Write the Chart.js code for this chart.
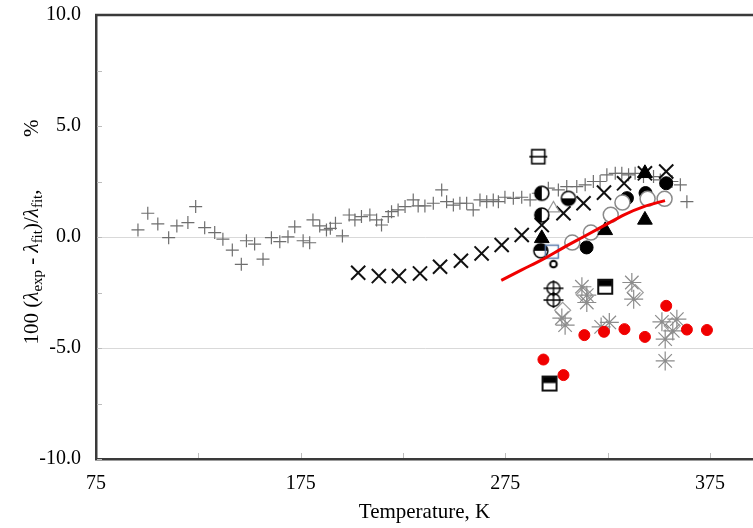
<!DOCTYPE html>
<html>
<head>
<meta charset="utf-8">
<script src="https://cdn.jsdelivr.net/npm/chart.js@4/dist/chart.umd.min.js"></script>
<style>
  html, body { margin: 0; padding: 0; background: #fff; overflow: hidden; }
  #wrap { width: 753px; height: 528px; }
</style>
</head>
<body>
<div id="wrap"><canvas id="c" width="753" height="528"></canvas></div>
<script>
// Axis ticks
const xTicks = [75, 125, 175, 225, 275, 325, 375];
const yTicks = [-10, -7.5, -5, -2.5, 0, 2.5, 5, 7.5, 10];

// Deviation data, [temperature K, deviation %]
const plusPts = [
  [95.5,0.32],[100.3,1.07],[105.2,0.59],[110.5,-0.03],[114.5,0.5],[119.9,0.65],[123.7,1.37],
  [128.1,0.42],[133,0.2],[137,-0.1],[141.6,-0.59],[146,-1.23],[148.5,-0.17],[152.5,-0.32],
  [156.6,-1.0],[160.7,-0.03],[164.8,-0.21],[168.8,0.01],[172.1,0.46],[176.2,-0.17],[179.4,-0.26],
  [181,0.77],[184.3,0.5],[187.6,0.32],[189.5,0.39],[192,0.62],[195.4,0.05],[198.7,0.99],
  [201.5,0.77],[204.7,0.92],[208.8,0.99],[212.1,0.77],[214.5,0.54],[217.8,0.92],[219.4,1.14],
  [222.6,1.22],[226,1.37],[230,1.67],[232.4,1.4],[235.7,1.4],[239.8,1.52],[243.9,2.12],
  [246.3,1.59],[249.6,1.44],[252.8,1.52],[256.1,1.52],[259.3,1.22],[262.6,1.67],[265.9,1.59],
  [269.1,1.67],[271.6,1.59],[274.8,1.79],[278.9,1.74],[283,1.79],[287.1,1.67],[291.1,1.97],
  [296,2.2],[300.9,2.12],[305,2.27],[309.9,2.27],[314,2.35],[318,2.5],[321.3,2.5],[324.6,2.8],
  [328.7,2.87],[331.9,2.87],[335.2,2.8],[338.4,2.87],[342.5,2.72],[347.4,2.72],[350.7,2.57],
  [356.4,2.5],[360.5,2.35],[363.7,1.59]
];
const crossPts = [
  [203.1,-1.61],[213.2,-1.76],[223,-1.76],[233.3,-1.64],[243.1,-1.34],[253.3,-1.07],[263.4,-0.74],
  [273.2,-0.36],[283,0.09],[292.8,0.54],[303.4,1.07],[313.2,1.52],[323.2,2.0],[333,2.42],
  [343.2,2.87],[353.6,2.95]
];
const fitCurveT   = [273, 283, 293, 303, 313, 323, 333, 343, 353];
const fitCurveDev = [-1.95, -1.48, -1.02, -0.5, 0.0, 0.5, 1.0, 1.38, 1.64];
const openCirclePts = [[307.7,-0.25],[316.8,0.2],[326.5,1.0],[332.2,1.55],[344.5,1.72],[352.8,1.72]];
const blackCirclePts = [[314.7,-0.47],[353.6,2.42],[334.4,1.75],[343.5,1.98]];
const blackTrianglePts = [[292.8,-0.06],[323.8,0.3],[343.2,0.77],[343.2,2.87]];
const redCirclePts = [
  [293.6,-5.52],[303.4,-6.22],[313.6,-4.42],[323.2,-4.27],[333.2,-4.15],[343.2,-4.5],
  [353.6,-3.1],[363.7,-4.17],[373.5,-4.19]
];
const starPts = [
  [312.4,-2.24],[314.8,-2.62],[314.8,-2.95],[336.8,-2.05],[337.7,-2.8],[302.6,-3.65],[304.2,-3.97],
  [321.8,-4.05],[325.8,-3.85],[351.5,-3.82],[358.8,-3.7],[353.1,-4.6],[356.8,-4.23],[353.1,-5.58]
];
const diamondPts = [[303,-3.3],[338.5,-2.5],[356.5,-4.0],[313.5,-2.6]];
const halfLeftPts = [[292.8,1.97],[292.8,0.99]];
const halfBottomPts = [[305.8,1.74]];
const halfTopPts = [[292.3,-0.62]];
const grayTrianglePts = [[298.5,1.29]];
const splitSquarePts = [[291.1,3.62]];
const topFilledSquarePts = [[323.8,-2.24],[296.6,-6.6]];
const smallCirclePts = [[298.5,-1.22]];
const ringCrossPts = [[298.5,-2.31],[298.5,-2.84]];
const blueSquarePts = [[297.7,-0.66]];

const SERIF = '"Liberation Serif", "Times New Roman", serif';
const pts = a => a.map(([x, y]) => ({ x, y }));

// Small canvases used as custom point symbols
function symbol(size, draw) {
  const c = document.createElement('canvas');
  c.width = size; c.height = size;
  const g = c.getContext('2d');
  draw(g, size / 2);
  return c;
}
function halfCircle(a0, a1) {
  return symbol(18, (g, m) => {
    const r = 7;
    g.beginPath(); g.arc(m, m, r, 0, Math.PI * 2);
    g.fillStyle = '#fff'; g.fill();
    g.beginPath(); g.moveTo(m, m); g.arc(m, m, r, a0, a1); g.closePath();
    g.fillStyle = '#000'; g.fill();
    g.beginPath(); g.arc(m, m, r, 0, Math.PI * 2);
    g.lineWidth = 1.5; g.strokeStyle = '#000'; g.stroke();
  });
}
const symHalfLeft = halfCircle(Math.PI / 2, Math.PI * 1.5);
const symHalfBottom = halfCircle(0, Math.PI);
const symHalfTop = halfCircle(Math.PI, Math.PI * 2);
const symSplitSquare = symbol(22, (g, m) => {
  g.lineWidth = 1.6; g.strokeStyle = '#000';
  g.fillStyle = '#fff'; g.fillRect(m - 6.5, m - 7, 13, 14);
  g.strokeRect(m - 6.5, m - 7, 13, 14);
  g.beginPath(); g.moveTo(m - 9, m); g.lineTo(m + 9, m); g.stroke();
});
const symTopFilledSquare = symbol(20, (g, m) => {
  g.fillStyle = '#fff'; g.fillRect(m - 7, m - 7, 14, 14);
  g.fillStyle = '#000'; g.fillRect(m - 7, m - 7, 14, 6.5);
  g.lineWidth = 2; g.strokeStyle = '#111'; g.strokeRect(m - 7, m - 7, 14, 14);
});
const symSmallCircle = symbol(12, (g, m) => {
  g.beginPath(); g.arc(m, m, 3.3, 0, Math.PI * 2);
  g.fillStyle = '#fff'; g.fill();
  g.lineWidth = 2; g.strokeStyle = '#000'; g.stroke();
});
const symRingCross = symbol(22, (g, m) => {
  g.lineWidth = 1.4; g.strokeStyle = '#000';
  g.beginPath(); g.arc(m, m, 6.5, 0, Math.PI * 2); g.stroke();
  g.beginPath();
  g.moveTo(m - 10, m); g.lineTo(m + 10, m);
  g.moveTo(m, m - 8); g.lineTo(m, m + 8);
  g.stroke();
});
const symBlueSquare = symbol(18, (g, m) => {
  g.lineWidth = 1.4; g.strokeStyle = '#5576a8';
  g.strokeRect(m - 6.5, m - 6.5, 13, 13);
});

function scatterSet(label, data, extra) {
  return Object.assign({
    label, type: 'scatter', data: pts(data), showLine: false,
    pointRadius: 6, pointHoverRadius: 6, pointBorderWidth: 1.5
  }, extra);
}

const fitCurve = fitCurveT.map((t, i) => ({ x: t, y: fitCurveDev[i] }));

const datasets = [
  { label: 'fit', type: 'line', data: fitCurve, borderColor: '#f00000', borderWidth: 3,
    pointRadius: 0, fill: false, cubicInterpolationMode: 'monotone' },
  scatterSet('small circle', smallCirclePts, { pointStyle: symSmallCircle }),
  scatterSet('blue square', blueSquarePts, { pointStyle: symBlueSquare }),
  scatterSet('half top', halfTopPts, { pointStyle: symHalfTop }),
  scatterSet('half left', halfLeftPts, { pointStyle: symHalfLeft }),
  scatterSet('half bottom', halfBottomPts, { pointStyle: symHalfBottom }),
  scatterSet('split square', splitSquarePts, { pointStyle: symSplitSquare }),
  scatterSet('top filled square', topFilledSquarePts, { pointStyle: symTopFilledSquare }),
  scatterSet('ring cross', ringCrossPts, { pointStyle: symRingCross }),
  scatterSet('black triangle', blackTrianglePts, { pointStyle: 'triangle', pointRadius: 8.5,
    pointBackgroundColor: '#000', pointBorderColor: '#000', pointBorderWidth: 1 }),
  scatterSet('open circle', openCirclePts, { pointStyle: 'circle', pointRadius: 7.5,
    pointBackgroundColor: '#fff', pointBorderColor: '#8a8a8a', pointBorderWidth: 1.5 }),
  scatterSet('black circle', blackCirclePts, { pointStyle: 'circle', pointRadius: 6.5,
    pointBackgroundColor: '#000', pointBorderColor: '#000', pointBorderWidth: 1 }),
  scatterSet('gray triangle', grayTrianglePts, { pointStyle: 'triangle', pointRadius: 7,
    pointBackgroundColor: 'rgba(0,0,0,0)', pointBorderColor: '#9a9a9a', pointBorderWidth: 1.2 }),
  scatterSet('red circle', redCirclePts, { pointStyle: 'circle', pointRadius: 5.5,
    pointBackgroundColor: '#f00000', pointBorderColor: '#f00000', pointBorderWidth: 1 }),
  scatterSet('star', starPts, { pointStyle: 'star', pointRadius: 9.5,
    pointBorderColor: '#8c8c8c', pointBorderWidth: 1.2 }),
  scatterSet('diamond', diamondPts, { pointStyle: 'rectRot', pointRadius: 8,
    pointBackgroundColor: 'rgba(0,0,0,0)', pointBorderColor: '#a0a0a0', pointBorderWidth: 1.2 }),
  scatterSet('cross', crossPts, { pointStyle: 'crossRot', pointRadius: 10,
    pointBorderColor: '#111', pointBorderWidth: 2 }),
  scatterSet('plus', plusPts, { pointStyle: 'cross', pointRadius: 6.5,
    pointBorderColor: '#6e6e6e', pointBorderWidth: 1.2 })
];

// Frame top line, inner minor ticks and the y-axis title with subscripts
const decorations = {
  id: 'decorations',
  afterDraw(chart) {
    const { ctx, chartArea: a, scales: { x, y } } = chart;
    ctx.save();
    ctx.strokeStyle = '#bdbdbd'; ctx.lineWidth = 1;
    ctx.beginPath();
    yTicks.forEach(v => { const p = Math.round(y.getPixelForValue(v)) + 0.5; ctx.moveTo(a.left + 1, p); ctx.lineTo(a.left + 6, p); });
    xTicks.slice(1).forEach(v => { const p = Math.round(x.getPixelForValue(v)) + 0.5; ctx.moveTo(p, a.bottom - 1); ctx.lineTo(p, a.bottom - 6); });
    ctx.stroke();
    ctx.strokeStyle = '#3a3a3a'; ctx.lineWidth = 2.5;
    ctx.beginPath(); ctx.moveTo(a.left - 1, a.top); ctx.lineTo(a.right, a.top); ctx.stroke();

    const parts = [
      ['100 (', 'n'], ['λ', 'i'], ['exp', 's'], [' - ', 'n'], ['λ', 'i'], ['fit', 's'],
      [')/', 'n'], ['λ', 'i'], ['fit', 's'], [',          %', 'n']
    ];
    const fonts = { n: '21px ' + SERIF, i: 'italic 21px ' + SERIF, s: '15px ' + SERIF };
    let total = 0;
    parts.forEach(([t, k]) => { ctx.font = fonts[k]; total += ctx.measureText(t).width; });
    ctx.translate(31, 232);
    ctx.rotate(-Math.PI / 2);
    ctx.fillStyle = '#000';
    ctx.textBaseline = 'alphabetic';
    let px = -total / 2;
    parts.forEach(([t, k]) => {
      ctx.font = fonts[k];
      ctx.fillText(t, px, k === 's' ? 11 : 7);
      px += ctx.measureText(t).width;
    });
    ctx.restore();
  }
};

Chart.defaults.font.family = SERIF;

new Chart(document.getElementById('c'), {
  type: 'scatter',
  data: { datasets },
  options: {
    responsive: false,
    animation: false,
    events: [],
    devicePixelRatio: 1,
    layout: { autoPadding: false, padding: { top: 15, right: 0, bottom: 0, left: 0 } },
    plugins: { legend: { display: false }, tooltip: { enabled: false } },
    scales: {
      x: {
        type: 'linear', min: 75, max: 396,
        afterBuildTicks: s => { s.ticks = xTicks.map(v => ({ value: v })); },
        afterFit: s => { s.height = 69; s.paddingLeft = 0; s.paddingRight = 0; },
        ticks: {
          autoSkip: false, maxRotation: 0, padding: 13, color: '#000',
          font: { size: 20, family: SERIF },
          callback: v => ((v - 75) % 100 === 0 ? String(v) : '')
        },
        grid: { drawOnChartArea: false, drawTicks: false },
        border: { display: true, color: '#3a3a3a', width: 2.5 },
        title: { display: true, text: 'Temperature, K', color: '#000',
          font: { size: 21, family: SERIF }, padding: { top: 0, bottom: 3 } }
      },
      y: {
        type: 'linear', min: -10, max: 10,
        afterBuildTicks: s => { s.ticks = yTicks.map(v => ({ value: v })); },
        afterFit: s => { s.width = 96; s.paddingTop = 0; s.paddingBottom = 0; },
        ticks: {
          autoSkip: false, padding: 15, color: '#000',
          font: { size: 20, family: SERIF },
          callback: v => (v % 5 === 0 ? v.toFixed(1) : '')
        },
        grid: {
          drawTicks: false, lineWidth: 1,
          color: c => (c.tick && (c.tick.value === 0 || c.tick.value === -5) ? '#d9d9d9' : 'rgba(0,0,0,0)')
        },
        border: { display: true, color: '#3a3a3a', width: 2.5 }
      }
    }
  },
  plugins: [decorations]
});
</script>
</body>
</html>
